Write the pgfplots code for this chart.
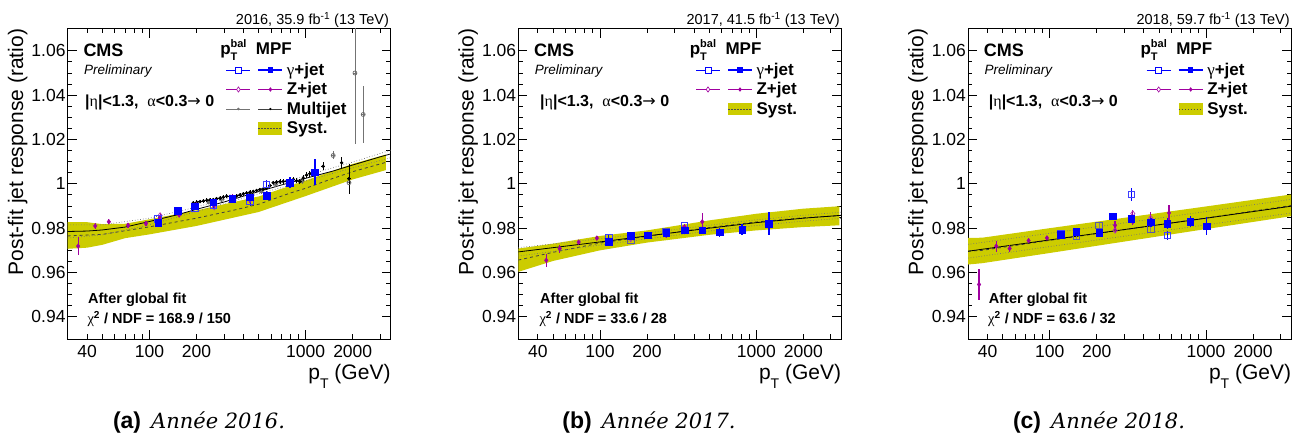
\documentclass[border=0pt]{standalone}
\usepackage{fontspec}
\setmainfont{Liberation Sans}
\newfontfamily\gr{Liberation Serif}
\newfontfamily\dv{DejaVu Sans}
\newfontfamily\capserif{DejaVu Serif}
\usepackage{pgfplots}
\pgfplotsset{compat=1.18}

\definecolor{syst}{RGB}{204,204,0}
\definecolor{zmag}{RGB}{160,0,160}
\definecolor{gbl}{RGB}{0,0,255}
\newcommand{\fs}[1]{\fontsize{#1}{#1}\selectfont}
\newcommand{\ptbal}{p\makebox[0pt][l]{\raisebox{-6pt}{\fs{11}T}}\raisebox{7.5pt}{\fs{11}bal}}

\newcommand{\legHcode}{%
   \path[draw=none, fill=none] (0pt,-9.75pt) rectangle (56pt,9.75pt);
   \node[overlay, anchor=base, inner sep=0pt, draw=none, fill=none, text=black, font=\bfseries\fs{17}] at (7pt,-4.5pt) {\ptbal};
   \node[overlay, anchor=base, inner sep=0pt, draw=none, fill=none, text=black, font=\bfseries\fs{17}] at (47.5pt,-4.5pt) {MPF};}
\newcommand{\legGcode}{%
   \path[draw=none, fill=none] (0pt,-9.75pt) rectangle (56pt,9.75pt);
   \draw[gbl, line width=0.8pt] (0pt,0pt) -- (24pt,0pt);
   \draw[gbl, line width=0.8pt, fill=white] (9pt,-3pt) rectangle (15pt,3pt);
   \draw[gbl, line width=1.1pt] (32pt,0pt) -- (56pt,0pt);
   \fill[gbl, draw=none] (41.3pt,-2.7pt) rectangle (46.7pt,2.7pt);}
\newcommand{\legZcode}{%
   \path[draw=none, fill=none] (0pt,-9.75pt) rectangle (56pt,9.75pt);
   \draw[zmag, line width=0.8pt] (0pt,0pt) -- (24pt,0pt);
   \draw[zmag, line width=0.6pt, fill=white] (12pt,2.6pt) -- (13.8pt,0pt) -- (12pt,-2.6pt) -- (10.2pt,0pt) -- cycle;
   \draw[zmag, line width=1.1pt] (32pt,0pt) -- (56pt,0pt);
   \fill[zmag, draw=none] (44pt,2.3pt) -- (45.8pt,0pt) -- (44pt,-2.3pt) -- (42.2pt,0pt) -- cycle;}
\newcommand{\legMcode}{%
   \path[draw=none, fill=none] (0pt,-9.75pt) rectangle (56pt,9.75pt);
   \draw[black!55, line width=0.8pt] (0pt,0pt) -- (24pt,0pt);
   \fill[black!55, draw=none] (12pt,0pt) circle (1.4pt);
   \draw[black!75, line width=0.8pt] (32pt,0pt) -- (56pt,0pt);
   \fill[black, draw=none] (44pt,0pt) circle (1.2pt);}
\newcommand{\legScode}{%
   \path[draw=none, fill=none] (0pt,-9.75pt) rectangle (56pt,9.75pt);
   \fill[syst, draw=none] (32pt,-6.2pt) rectangle (56pt,6.2pt);
   \draw[black!70, dashed, line width=0.6pt, dash pattern=on 1.5pt off 1.5pt] (32pt,0pt) -- (56pt,0pt);}

\pgfplotsset{
 gmpf/.style={only marks, mark=square*, mark size=3.3pt, color=gbl,
   error bars/y dir=both, error bars/y explicit, error bars/error mark=none, error bars/error bar style={line width=1.6pt, gbl}},
 gbal/.style={only marks, mark=square, mark size=3.3pt, color=gbl!75,
   mark options={line width=0.8pt, fill=white},
   error bars/y dir=both, error bars/y explicit, error bars/error mark=none, error bars/error bar style={line width=0.8pt, gbl}},
 ggray/.style={only marks, mark=square, mark size=3.3pt, color=gray!70!blue,
   mark options={line width=0.8pt},
   error bars/y dir=both, error bars/y explicit, error bars/error mark=none, error bars/error bar style={line width=0.8pt, gray}},
 zmpf/.style={only marks, mark=diamond*, mark size=2.4pt, color=zmag,
   error bars/y dir=both, error bars/y explicit, error bars/error mark=none, error bars/error bar style={line width=1.3pt, zmag}},
 zbal/.style={only marks, mark=diamond, mark size=2.8pt, color=zmag!80,
   mark options={line width=0.7pt, fill=white},
   error bars/y dir=both, error bars/y explicit, error bars/error mark=none, error bars/error bar style={line width=0.7pt, zmag}},
 mjmpf/.style={only marks, mark=*, mark size=1.5pt, color=black,
   error bars/y dir=both, error bars/y explicit, error bars/x dir=both, error bars/x fixed relative=0.025,
   error bars/error mark=none, error bars/error bar style={line width=0.8pt, black}},
 mjbal/.style={only marks, mark=o, mark size=2pt, color=black!60,
   mark options={line width=0.7pt},
   error bars/y dir=both, error bars/y explicit, error bars/x dir=both, error bars/x fixed relative=0.025,
   error bars/error mark=none, error bars/error bar style={line width=0.7pt, black!55}},
 bandst/.style={fill=syst, draw=none},
 dashst/.style={no marks, black!75, dashed, line width=0.8pt},
 solidst/.style={no marks, black, line width=0.8pt},
 dotst/.style={no marks, black!55, dotted, line width=0.7pt},
}

\begin{document}
\begin{tikzpicture}
\path[use as bounding box] (0,0) rectangle (1302pt,436pt);

\foreach \L/\lx in {67.7/0.4901, 518.3/0.5489, 968/0.5520}{
\begin{axis}[
  at={(\L pt,97pt)}, anchor=south west,
  xmode=log, xmin=30, xmax=3500, ymin=0.93, ymax=1.07,
  scale only axis, width=323pt, height=310.3pt,
  axis line style={line width=0.9pt},
  tick style={line width=0.9pt, black},
  tick align=inside, xtick pos=both, ytick pos=both,
  major tick length=9pt, minor tick length=4.5pt,
  xtick={100,1000}, xticklabels={100,1000},
  extra x ticks={40,200,2000}, extra x tick labels={40,200,2000},
  extra x tick style={major tick length=4.5pt},
  minor xtick={30,50,60,70,80,90,300,400,500,600,700,800,900,3000},
  ytick={0.94,0.96,0.98,1,1.02,1.04,1.06},
  yticklabels={0.94,0.96,0.98,1,1.02,1.04,1.06},
  minor y tick num=3,
  tick label style={font=\fs{17.5}},
  xticklabel style={inner sep=0pt, yshift=-5.8pt},
  yticklabel style={inner sep=0pt, xshift=-2pt},
  legend style={draw=none, fill=none, inner sep=0pt, outer sep=0pt,
    at={(\lx,0.9612)}, anchor=north west, font=\bfseries\fs{17}, row sep=0pt, column sep=4pt,
    nodes={inner sep=0pt, draw=none}},
  legend cell align=left,
]
\ifdim\L pt<100pt
% ===================== panel (a) 2016 =====================
\addplot[bandst, forget plot] coordinates {(30,0.9827) (40,0.9827) (50,0.9818) (70,0.9820) (100,0.9840) (200,0.9880) (500,0.9943) (1000,1.0015) (2000,1.0090) (3260,1.0132)
 (3260,1.0062) (2000,1.0020) (1000,0.9945) (500,0.9873) (200,0.9810) (100,0.9772) (70,0.9755) (50,0.9725) (40,0.9712) (30,0.9707)};
\addplot[dashst, forget plot] coordinates {(30,0.9765) (50,0.9772) (100,0.9806) (200,0.9845) (361,0.9884) (500,0.9908) (793,0.9958) (1000,0.9980) (1500,1.0025) (2000,1.0055) (3260,1.0097)};
\addplot[dotst, forget plot] coordinates {(30,0.9815) (50,0.9815) (100,0.9845) (200,0.9895) (500,0.9975) (1000,1.0037) (2000,1.0098) (3500,1.0152)};
\addplot[dotst, forget plot] coordinates {(30,0.9755) (50,0.9770) (100,0.9815) (200,0.9875) (500,0.9955) (1000,1.0013) (2000,1.0072) (3500,1.0118)};
\addplot[solidst, forget plot] coordinates {(30,0.9785) (40,0.9787) (50,0.9792) (70,0.9805) (100,0.9830) (150,0.9860) (200,0.9885) (300,0.9918) (500,0.9965) (700,0.9995) (1000,1.0025) (1500,1.0058) (2000,1.0085) (3000,1.0122) (3500,1.0135)};
\addplot[mjbal, forget plot] table[row sep=\\, y error index=2] {
196 0.9902 0.0010\\ 240 0.9918 0.0010\\ 290 0.9930 0.0010\\ 350 0.9938 0.0010\\ 430 0.9950 0.0010\\
520 0.9968 0.0012\\ 640 0.9998 0.0012\\ 780 1.0008 0.0014\\ 950 1.0015 0.0015\\ 1150 1.0045 0.0018\\
1500 1.0128 0.0018\\ 1893 1.0005 0.0050\\ 2066 1.0500 0.0320\\ 2333 1.0313 0.0130\\};
\addplot[mjmpf, forget plot] table[row sep=\\, y error index=2] {
191 0.9914 0.0008\\ 201 0.9917 0.0008\\ 211 0.9920 0.0008\\ 222 0.9923 0.0008\\ 233 0.9926 0.0008\\
244 0.9927 0.0008\\ 256 0.9929 0.0008\\ 269 0.9933 0.0008\\ 283 0.9936 0.0008\\ 297 0.9940 0.0008\\
312 0.9944 0.0008\\ 328 0.9943 0.0008\\ 344 0.9941 0.0008\\ 362 0.9946 0.0008\\ 380 0.9950 0.0008\\
399 0.9955 0.0008\\ 419 0.9959 0.0008\\ 440 0.9962 0.0008\\ 462 0.9966 0.0008\\ 485 0.9970 0.0008\\
509 0.9974 0.0008\\ 535 0.9977 0.0009\\ 562 0.9980 0.0009\\ 590 0.9992 0.0009\\ 620 1.0005 0.0009\\
651 1.0008 0.0010\\ 684 1.0010 0.0010\\ 718 1.0011 0.0010\\ 755 1.0012 0.0010\\ 793 1.0016 0.0011\\
832 1.0019 0.0011\\ 874 1.0014 0.0012\\ 918 1.0010 0.0012\\ 965 1.0026 0.0013\\ 1013 1.0040 0.0013\\
1064 1.0046 0.0014\\ 1117 1.0050 0.0015\\ 1294 1.0079 0.0018\\
1700 1.0095 0.0025\\ 1893 1.0023 0.0068\\};
\addplot[zbal, forget plot] table[row sep=\\, y error index=2] {
117 0.9857 0.0012\\ 155 0.9862 0.0012\\ 260 0.9895 0.0015\\ 440 0.9928 0.0020\\};
\addplot[zmpf, forget plot] table[row sep=\\, y error index=2] {
35 0.9719 0.0040\\ 45 0.9810 0.0015\\ 55 0.9829 0.0012\\ 73 0.9813 0.0010\\ 95 0.9821 0.0010\\
117 0.9845 0.0010\\ 155 0.9860 0.0010\\ 200 0.9905 0.0012\\ 260 0.9908 0.0015\\ 340 0.9940 0.0015\\ 440 0.9935 0.0020\\};
\addplot[gbal, forget plot] table[row sep=\\, y error index=2] {
113.5 0.9842 0.0012\\ 152 0.9880 0.0012\\ 195 0.9892 0.0012\\ 256 0.9905 0.0012\\ 339 0.9932 0.0012\\
440 0.9920 0.0020\\ 562 0.9998 0.0020\\};
\addplot[gmpf, forget plot] table[row sep=\\, y error index=2] {
113.5 0.9824 0.0010\\ 152 0.9878 0.0012\\ 195 0.9899 0.0012\\ 256 0.9917 0.0012\\ 339 0.9934 0.0010\\
440 0.9940 0.0020\\ 562 0.9947 0.0020\\ 793 1.0005 0.0025\\ 1146 1.0052 0.0058\\};
\addlegendimage{legend image code/.code={\legHcode}}\addlegendentry{}
\addlegendimage{legend image code/.code={\legGcode}}\addlegendentry{{\gr\mdseries γ}+jet}
\addlegendimage{legend image code/.code={\legZcode}}\addlegendentry{Z+jet}
\addlegendimage{legend image code/.code={\legMcode}}\addlegendentry{Multijet}
\addlegendimage{legend image code/.code={\legScode}}\addlegendentry{Syst.}
\else\ifdim\L pt<600pt
% ===================== panel (b) 2017 =====================
\addplot[bandst, forget plot] coordinates {(30,0.9708) (50,0.9730) (100,0.9765) (200,0.9790) (500,0.9835) (1000,0.9865) (2000,0.9888) (3400,0.9899)
 (3400,0.9813) (2000,0.9805) (1000,0.9790) (500,0.9770) (200,0.9735) (100,0.9700) (50,0.9652) (30,0.9603)};
\addplot[dashst, forget plot] coordinates {(30,0.9656) (50,0.9691) (100,0.9733) (200,0.9763) (500,0.9803) (1000,0.9828) (2000,0.9847) (3400,0.9856)};
\addplot[dotst, forget plot] coordinates {(30,0.9712) (100,0.9752) (200,0.9778) (500,0.9813) (1000,0.9838) (2000,0.9858) (3500,0.9872)};
\addplot[dotst, forget plot] coordinates {(30,0.9674) (100,0.9724) (200,0.9752) (500,0.9787) (1000,0.9812) (2000,0.9832) (3500,0.9844)};
\addplot[solidst, forget plot] coordinates {(30,0.9693) (50,0.9712) (100,0.9738) (200,0.9765) (500,0.9800) (1000,0.9825) (2000,0.9845) (3500,0.9858)};
\addplot[zbal, forget plot] table[row sep=\\, y error index=2] {
157 0.9752 0.0010\\ 265 0.9775 0.0010\\ 347 0.9803 0.0012\\};
\addplot[zmpf, forget plot] table[row sep=\\, y error index=2] {
45.3 0.9655 0.0030\\ 55.2 0.9708 0.0018\\ 73 0.9737 0.0010\\ 95.5 0.9755 0.0010\\ 118 0.9734 0.0010\\
157 0.9759 0.0010\\ 202 0.9772 0.0010\\ 265 0.9768 0.0012\\ 347 0.9806 0.0015\\ 451 0.9829 0.0040\\};
\addplot[ggray, forget plot] table[row sep=\\, y error index=2] {
157 0.9748 0.0010\\ 265 0.9785 0.0010\\};
\addplot[gbal, forget plot] table[row sep=\\, y error index=2] {
113.5 0.9759 0.0010\\ 347 0.9809 0.0012\\};
\addplot[gmpf, forget plot] table[row sep=\\, y error index=2] {
113.5 0.9738 0.0012\\ 157 0.9767 0.0010\\ 202 0.9768 0.0010\\ 265 0.9779 0.0010\\ 347 0.9791 0.0012\\
451 0.9791 0.0015\\ 582 0.9782 0.0020\\ 813 0.9794 0.0025\\ 1205 0.9821 0.0050\\};
\addlegendimage{legend image code/.code={\legHcode}}\addlegendentry{}
\addlegendimage{legend image code/.code={\legGcode}}\addlegendentry{{\gr\mdseries γ}+jet}
\addlegendimage{legend image code/.code={\legZcode}}\addlegendentry{Z+jet}
\addlegendimage{legend image code/.code={\legScode}}\addlegendentry{Syst.}
\else
% ===================== panel (c) 2018 =====================
\addplot[bandst, forget plot] coordinates {(30,0.9756) (37,0.9757) (100,0.9800) (1000,0.9898) (3500,0.9952)
 (3500,0.9854) (1000,0.9796) (100,0.9688) (37,0.9642) (30,0.9636)};
\addplot[dashst, forget plot] coordinates {(30,0.9696) (37,0.9700) (100,0.9745) (1000,0.9846) (3500,0.9902)};
\addplot[dotst, forget plot] coordinates {(30,0.9727) (100,0.9777) (1000,0.9875) (3500,0.9930)};
\addplot[dotst, forget plot] coordinates {(30,0.9665) (100,0.9717) (1000,0.9815) (3500,0.9868)};
\addplot[solidst, forget plot] coordinates {(30,0.9696) (100,0.9747) (1000,0.9845) (3500,0.9899)};
\addplot[zbal, forget plot] table[row sep=\\, y error index=2] {
262 0.9790 0.0012\\ 340 0.9866 0.0015\\ 443 0.9845 0.0020\\};
\addplot[zmpf, forget plot] table[row sep=\\, y error index=2] {
35.3 0.9546 0.0068\\ 45.5 0.9719 0.0025\\ 55.4 0.9708 0.0015\\ 73.3 0.9744 0.0010\\ 96 0.9756 0.0010\\
117.5 0.9767 0.0010\\ 148 0.9780 0.0010\\ 207 0.9788 0.0012\\ 262 0.9813 0.0020\\ 340 0.9829 0.0015\\
443 0.9831 0.0040\\ 580 0.9869 0.0035\\};
\addplot[ggray, forget plot] table[row sep=\\, y error index=2] {
148 0.9764 0.0012\\ 207 0.9812 0.0012\\ 443 0.9797 0.0020\\};
\addplot[gbal, forget plot] table[row sep=\\, y error index=2] {
117.5 0.9775 0.0010\\ 333 0.9952 0.0030\\ 566 0.9768 0.0020\\};
\addplot[gmpf, forget plot] table[row sep=\\, y error index=2] {
117.5 0.9771 0.0010\\ 148 0.9783 0.0010\\ 207 0.9779 0.0010\\ 254 0.9854 0.0015\\ 333 0.9843 0.0015\\
443 0.9827 0.0020\\ 566 0.9820 0.0025\\ 794 0.9829 0.0025\\ 1009 0.9809 0.0040\\};
\addlegendimage{legend image code/.code={\legHcode}}\addlegendentry{}
\addlegendimage{legend image code/.code={\legGcode}}\addlegendentry{{\gr\mdseries γ}+jet}
\addlegendimage{legend image code/.code={\legZcode}}\addlegendentry{Z+jet}
\addlegendimage{legend image code/.code={\legScode}}\addlegendentry{Syst.}
\fi\fi
\end{axis}
}

% ===================== texts =====================
\foreach \L/\R/\yr/\lumi/\ex/\ax/\cpx/\lab/\chiv in {
  67.7/390.7/2016/35.9/85/88/199/a/{168.9 / 150},
  518.3/841.3/2017/41.5/540/540/649/b/{33.6 / 28},
  968/1291.3/2018/59.7/988.7/988.7/1099/c/{63.6 / 32}}{
  \node[anchor=base east, inner sep=0pt, font=\fs{14.5}] at (\R pt-1.5pt,411pt) {\yr, \lumi\ fb\textsuperscript{-1} (13 TeV)};
  \node[anchor=base west, inner sep=0pt, font=\bfseries\fs{18}] at (\L pt+15.6pt,379.3pt) {CMS};
  \node[anchor=base west, inner sep=0pt, font=\itshape\fs{13.5}] at (\L pt+16.3pt,361.7pt) {Preliminary};
  \node[anchor=base west, inner sep=0pt, font=\bfseries\fs{16}] at (\ex pt,329.3pt) {|{\gr\mdseries η}|<1.3,\ \ {\gr\mdseries α}<0.3{\dv\mdseries →} 0};
  \node[anchor=base west, inner sep=0pt, font=\bfseries\fs{14.5}] at (\ax pt,132pt) {After global fit};
  \node[anchor=base west, inner sep=0pt, font=\bfseries\fs{14.5}] at (\ax pt-0.7pt,112pt) {{\gr\mdseries χ}\textsuperscript{2} / NDF = \chiv};
  \node[rotate=90, anchor=east, inner sep=0pt, font=\fs{21}] at (\L pt-50pt,407.3pt) {Post-fit jet response (ratio)};
  \node[anchor=base east, inner sep=0pt, font=\fs{21}] at (\R pt,56pt) {p\raisebox{-9pt}{\fs{14}T} (GeV)};
  \node[anchor=base, inner sep=0pt] at (\cpx pt,7pt) {{\bfseries\fs{23}(\lab)}\hspace{10pt}{\capserif\itshape\fs{21}Année \yr.}};
}
\end{tikzpicture}
\end{document}
